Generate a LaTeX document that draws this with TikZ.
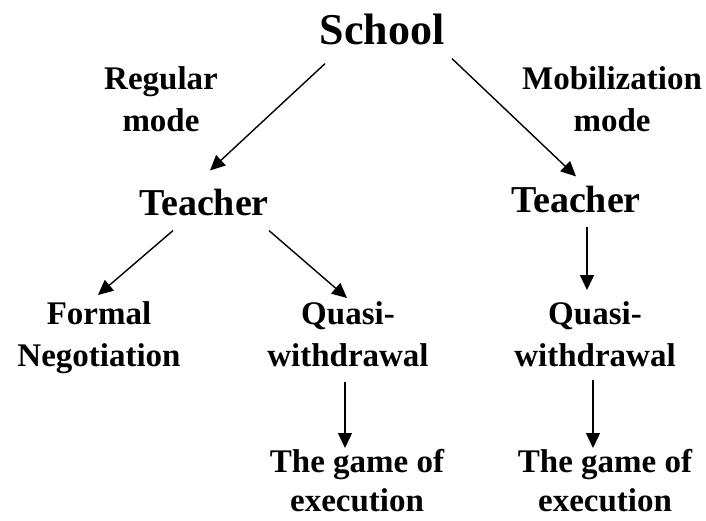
\documentclass[tikz,border=0pt]{standalone}
\usepackage{fontspec}
\setmainfont{Liberation Serif}
\usetikzlibrary{arrows.meta}

\begin{document}
\begin{tikzpicture}[x = 1pt, y = -1pt,
  lbl/.style = {draw = none, fill = none, inner sep = 0pt, align = center, font = \bfseries\fontsize{33}{42}\selectfont},
  big/.style = {lbl, font = \bfseries\fontsize{38}{44}\selectfont},
  arr/.style = {-{Triangle[length = 15pt, width = 14pt]}, line width = 1.4pt}]
\useasboundingbox (0,0) rectangle (706,520);

\node[lbl, anchor = base, font = \bfseries\fontsize{44}{50}\selectfont] (school) at (382,44) {School};
\node[lbl, anchor = north] (regular) at (161,66) {Regular\\mode};
\node[lbl, anchor = north] (mobil) at (612,66) {Mobilization\\mode};

\node[big, anchor = base] (tchL) at (204,215) {Teacher};
\node[big, anchor = base] (tchR) at (576,212) {Teacher};

\node[lbl, anchor = north] (formal) at (99,301) {Formal\\Negotiation};
\node[lbl, anchor = north] (quasiL) at (348,301) {Quasi-\\withdrawal};
\node[lbl, anchor = north] (quasiR) at (595,301) {Quasi-\\withdrawal};

\node[lbl, anchor = north, font = \bfseries\fontsize{33}{39}\selectfont] (gameL) at (357,449) {The game of\\execution};
\node[lbl, anchor = north, font = \bfseries\fontsize{33}{39}\selectfont] (gameR) at (605,449) {The game of\\execution};

\draw[arr] ([shift = {(-57,19)}]school.south) -- ([shift = {(6,-18)}]tchL.north);
\draw[arr] ([shift = {(70,14)}]school.south) -- ([shift = {(0,-9)}]tchR.north);
\draw[arr] ([shift = {(-31,15)}]tchL.south) -- ([shift = {(-1,-6)}]formal.north);
\draw[arr] ([shift = {(65,15)}]tchL.south) -- ([shift = {(-1,-3)}]quasiL.north);
\draw[arr] ([shift = {(11,14)}]tchR.south) -- ([shift = {(-8,-11)}]quasiR.north);
\draw[arr] ([shift = {(-3,15)}]quasiL.south) -- ([shift = {(-12,-1)}]gameL.north);
\draw[arr] ([shift = {(-2,13)}]quasiR.south) -- ([shift = {(-12,-1)}]gameR.north);
\end{tikzpicture}
\end{document}
